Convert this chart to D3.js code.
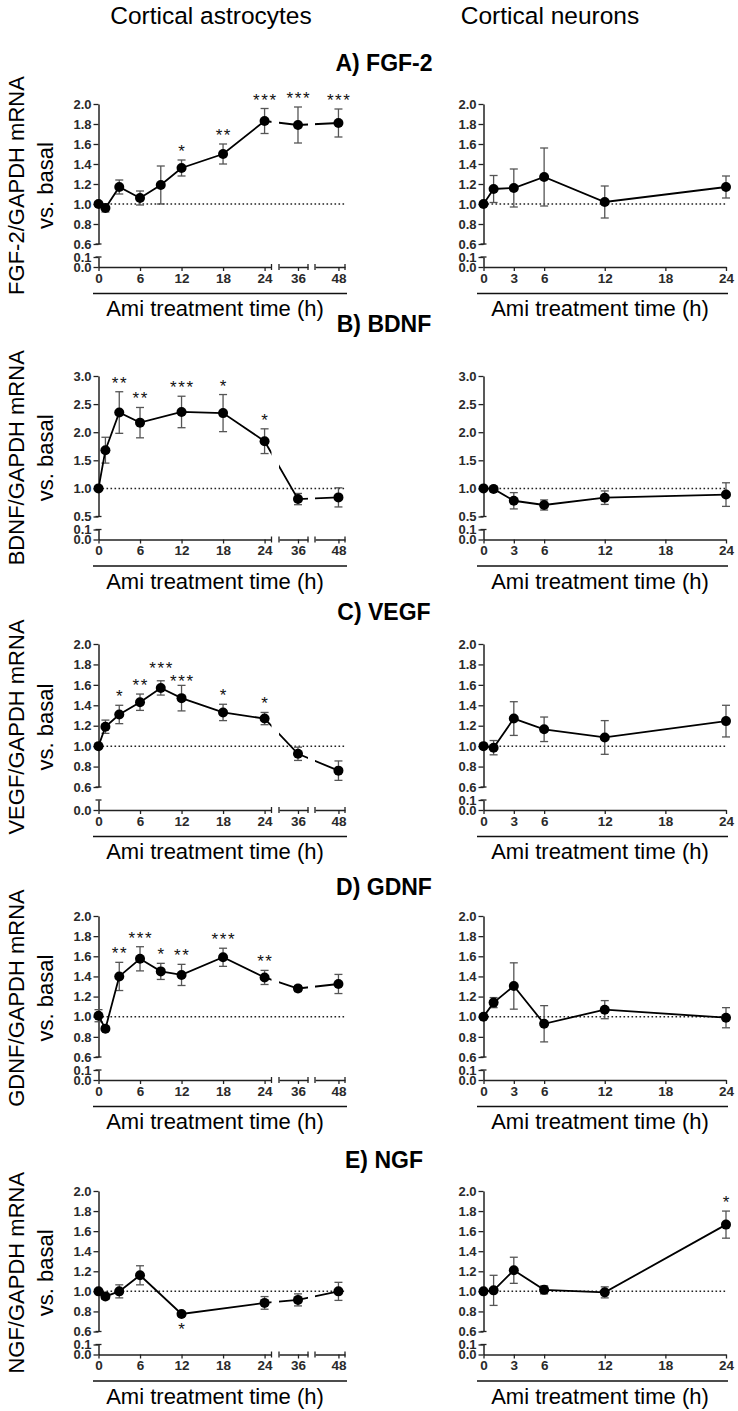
<!DOCTYPE html>
<html><head><meta charset="utf-8">
<script src="https://cdn.jsdelivr.net/npm/d3@7"></script>
<style>
body{margin:0;background:#fff}
svg{display:block}
text{font-family:Arial,"Liberation Sans",sans-serif}
</style>
</head><body>
<svg id="chart" width="738" height="1411"></svg>
<script>
// ---------------- data ----------------
const colTitles = ["Cortical astrocytes", "Cortical neurons"];
const panelLabels = ["A) FGF-2", "B) BDNF", "C) VEGF", "D) GDNF", "E) NGF"];
const yLabels = ["FGF-2/GAPDH mRNA", "BDNF/GAPDH mRNA", "VEGF/GAPDH mRNA", "GDNF/GAPDH mRNA", "NGF/GAPDH mRNA"];
const yLabel2 = "vs. basal";
const xLabel = "Ami treatment time (h)";

const upperTicksStd = [0.6, 0.8, 1.0, 1.2, 1.4, 1.6, 1.8, 2.0];
const upperTicksB = [0.5, 1.0, 1.5, 2.0, 2.5, 3.0];
const lowerTicks = [0.0, 0.1];
const lowerTicksC = [0.0];
const astroXTicks1 = [0, 6, 12, 18, 24];
const astroXTicks2 = [36];
const astroXTicks3 = [48];
const neuronXTicks = [0, 3, 6, 12, 18, 24];

const astroTimes = [0, 1, 3, 6, 9, 12, 18, 24, 36, 48];
const astroTimesB = [0, 1, 3, 6, 12, 18, 24, 36, 48];
const astroTimesE = [0, 1, 3, 6, 12, 24, 36, 48];
const neuronTimes = [0, 1, 3, 6, 12, 24];

// A) FGF-2
const fgfAstroMean = [1.00, 0.96, 1.17, 1.06, 1.19, 1.36, 1.50, 1.83, 1.79, 1.81];
const fgfAstroSem  = [0.02, 0.04, 0.07, 0.07, 0.19, 0.08, 0.10, 0.125, 0.18, 0.14];
const fgfAstroSig  = ["", "", "", "", "", "*", "**", "***", "***", "***"];
const fgfNeurMean  = [1.00, 1.15, 1.16, 1.27, 1.02, 1.17];
const fgfNeurSem   = [0, 0.135, 0.19, 0.29, 0.16, 0.11];
const fgfNeurSig   = ["", "", "", "", "", ""];
// B) BDNF
const bdnfAstroMean = [1.00, 1.68, 2.35, 2.17, 2.36, 2.34, 1.84, 0.81, 0.84];
const bdnfAstroSem  = [0, 0.23, 0.37, 0.27, 0.28, 0.33, 0.22, 0.10, 0.17];
const bdnfAstroSig  = ["", "", "**", "**", "***", "*", "*", "", ""];
const bdnfNeurMean  = [1.00, 0.99, 0.78, 0.705, 0.835, 0.89];
const bdnfNeurSem   = [0, 0.05, 0.145, 0.09, 0.12, 0.21];
const bdnfNeurSig   = ["", "", "", "", "", ""];
// C) VEGF
const vegfAstroMean = [1.00, 1.19, 1.31, 1.43, 1.57, 1.47, 1.33, 1.27, 0.925, 0.76];
const vegfAstroSem  = [0, 0.065, 0.09, 0.08, 0.07, 0.125, 0.08, 0.06, 0.065, 0.095];
const vegfAstroSig  = ["", "", "*", "**", "***", "***", "*", "*", "", ""];
const vegfNeurMean  = [1.00, 0.985, 1.27, 1.165, 1.085, 1.245];
const vegfNeurSem   = [0, 0.07, 0.165, 0.12, 0.165, 0.155];
const vegfNeurSig   = ["", "", "", "", "", ""];
// D) GDNF
const gdnfAstroMean = [1.01, 0.88, 1.40, 1.575, 1.45, 1.415, 1.59, 1.39, 1.28, 1.325];
const gdnfAstroSem  = [0.06, 0.02, 0.14, 0.12, 0.08, 0.105, 0.09, 0.07, 0.03, 0.095];
const gdnfAstroSig  = ["", "", "**", "***", "*", "**", "***", "**", "", ""];
const gdnfNeurMean  = [1.00, 1.14, 1.305, 0.93, 1.07, 0.99];
const gdnfNeurSem   = [0, 0.05, 0.23, 0.18, 0.09, 0.10];
const gdnfNeurSig   = ["", "", "", "", "", ""];
// E) NGF
const ngfAstroMean = [1.00, 0.95, 1.00, 1.16, 0.775, 0.885, 0.915, 1.00];
const ngfAstroSem  = [0.02, 0.03, 0.065, 0.095, 0.02, 0.063, 0.06, 0.09];
const ngfAstroSig  = ["", "", "", "", "*", "", "", ""];
const ngfAstroSigBelow = [false, false, false, false, true, false, false, false];
const ngfNeurMean  = [1.00, 1.01, 1.21, 1.015, 0.99, 1.665];
const ngfNeurSem   = [0, 0.15, 0.13, 0.04, 0.055, 0.135];
const ngfNeurSig   = ["", "", "", "", "", "*"];

// ---------------- layout ----------------
const rowTop   = [104, 376, 644, 916, 1191];
const rowZero  = [267, 539.5, 810, 1080, 1354.5];
const rowYMin  = [0.6, 0.5, 0.6, 0.6, 0.6];
const rowYMax  = [2.0, 3.0, 2.0, 2.0, 2.0];
const rowTicks = [upperTicksStd, upperTicksB, upperTicksStd, upperTicksStd, upperTicksStd];
const headerY  = [71, 331.5, 620, 895, 1168];
const colAxisX = [98.5, 483.5];

const panels = [
  {row:0,col:0,t:astroTimes, m:fgfAstroMean, e:fgfAstroSem, s:fgfAstroSig},
  {row:0,col:1,t:neuronTimes,m:fgfNeurMean,  e:fgfNeurSem,  s:fgfNeurSig},
  {row:1,col:0,t:astroTimesB,m:bdnfAstroMean,e:bdnfAstroSem,s:bdnfAstroSig},
  {row:1,col:1,t:neuronTimes,m:bdnfNeurMean, e:bdnfNeurSem, s:bdnfNeurSig},
  {row:2,col:0,t:astroTimes, m:vegfAstroMean,e:vegfAstroSem,s:vegfAstroSig, lower:lowerTicksC},
  {row:2,col:1,t:neuronTimes,m:vegfNeurMean, e:vegfNeurSem, s:vegfNeurSig},
  {row:3,col:0,t:astroTimes, m:gdnfAstroMean,e:gdnfAstroSem,s:gdnfAstroSig},
  {row:3,col:1,t:neuronTimes,m:gdnfNeurMean, e:gdnfNeurSem, s:gdnfNeurSig},
  {row:4,col:0,t:astroTimesE,m:ngfAstroMean, e:ngfAstroSem, s:ngfAstroSig, below:ngfAstroSigBelow},
  {row:4,col:1,t:neuronTimes,m:ngfNeurMean,  e:ngfNeurSem,  s:ngfNeurSig}
];

const svg = d3.select("#chart");
const AXC = "#222", ERRC = "#555", TICKC = "#2a2a2a";

// column titles
svg.append("text").attr("x", 211).attr("y", 23.5).attr("text-anchor","middle")
  .attr("font-size", 24.5).text(colTitles[0]);
svg.append("text").attr("x", 550).attr("y", 23.5).attr("text-anchor","middle")
  .attr("font-size", 24.5).text(colTitles[1]);

// row headers / y labels / x labels
for (let r = 0; r < 5; r++) {
  svg.append("text").attr("x", 384).attr("y", headerY[r]).attr("text-anchor","middle")
    .attr("font-size", 23).attr("font-weight","bold").text(panelLabels[r]);
  const cy = (rowTop[r] + rowZero[r]) / 2;
  svg.append("text").attr("transform", `translate(24,${cy}) rotate(-90)`)
    .attr("text-anchor","middle").attr("font-size", 22).text(yLabels[r]);
  svg.append("text").attr("transform", `translate(53,${cy}) rotate(-90)`)
    .attr("text-anchor","middle").attr("font-size", 22).text(yLabel2);
  const lines = [[93, 347, 215], [477, 728, 600]];
  lines.forEach(([x1, x2, xc]) => {
    svg.append("line").attr("x1", x1).attr("x2", x2)
      .attr("y1", rowZero[r] + 26.5).attr("y2", rowZero[r] + 26.5)
      .attr("stroke", "#111").attr("stroke-width", 1.6);
    svg.append("text").attr("x", xc).attr("y", rowZero[r] + 49).attr("text-anchor","middle")
      .attr("font-size", 22).text(xLabel);
  });
}

function styleAxis(g, fs) {
  g.select(".domain").attr("stroke", AXC).attr("stroke-width", 1.5);
  g.selectAll(".tick line").attr("stroke", AXC).attr("stroke-width", 1.3);
  g.selectAll(".tick text").attr("fill", TICKC)
    .style("font-size", fs + "px").style("font-weight", "bold");
}

let clipId = 0;
panels.forEach(p => {
  const r = p.row;
  const ax = colAxisX[p.col];
  const top = rowTop[r], zero = rowZero[r];
  const upper = d3.scaleLinear().domain([rowYMin[r], rowYMax[r]]).range([zero - 23, top]);
  const lower = d3.scaleLinear().domain([0, 0.1]).range([zero, zero - 10]);
  const y = v => v >= rowYMin[r] ? upper(v) : lower(v);

  let xSegs, xf, xEnd;
  if (p.col === 0) {
    const s1 = d3.scaleLinear().domain([0, 25]).range([ax, 271.5]);
    const s2 = d3.scaleLinear().domain([33.25, 37.45]).range([279, 308]);
    const s3 = d3.scaleLinear().domain([44.6, 48.95]).range([315, 345]);
    xSegs = [[s1, astroXTicks1, false], [s2, astroXTicks2, true], [s3, astroXTicks3, true]];
    xf = t => t <= 25 ? s1(t) : (t <= 40 ? s2(t) : s3(t));
    xEnd = 345;
  } else {
    const s = d3.scaleLinear().domain([0, 24]).range([ax, 726]);
    xSegs = [[s, neuronXTicks, false]];
    xf = t => s(t);
    xEnd = 726;
  }

  const g = svg.append("g");

  // dotted reference line at 1.0
  g.append("line").attr("x1", ax).attr("x2", xEnd).attr("y1", y(1)).attr("y2", y(1))
    .attr("stroke", "#222").attr("stroke-width", 1.5).attr("stroke-dasharray", "1.6,2.4");

  // y axis (two segments)
  const ya = g.append("g").attr("transform", `translate(${ax},0)`)
    .call(d3.axisLeft(upper).tickValues(rowTicks[r]).tickSize(5).tickSizeOuter(0).tickPadding(2)
      .tickFormat(d3.format(".1f")));
  styleAxis(ya, 13);
  const lowTicks = p.lower || lowerTicks;
  const yb = g.append("g").attr("transform", `translate(${ax},0)`)
    .call(d3.axisLeft(lower).tickValues(lowTicks).tickSize(5).tickSizeOuter(0).tickPadding(2)
      .tickFormat(d3.format(".1f")));
  styleAxis(yb, 13);
  // caps at y breaks
  [upper.range()[0], lower.range()[1]].forEach(yy => {
    g.append("line").attr("x1", ax - 3).attr("x2", ax + 3).attr("y1", yy).attr("y2", yy)
      .attr("stroke", AXC).attr("stroke-width", 1.3);
  });

  // x axis segments
  xSegs.forEach(([s, ticks, capLeft]) => {
    const xa = g.append("g").attr("transform", `translate(0,${zero})`)
      .call(d3.axisBottom(s).tickValues(ticks).tickSize(4).tickSizeOuter(0).tickPadding(2)
        .tickFormat(d3.format("d")));
    styleAxis(xa, 13.5);
    const [a, b] = s.range();
    if (capLeft) g.append("line").attr("x1", a).attr("x2", a).attr("y1", zero - 3).attr("y2", zero + 3)
      .attr("stroke", AXC).attr("stroke-width", 1.3);
    if (p.col === 0) g.append("line").attr("x1", b).attr("x2", b).attr("y1", zero - 3).attr("y2", zero + 3)
      .attr("stroke", AXC).attr("stroke-width", 1.3);
  });

  const data = p.t.map((t, i) => ({t, m: p.m[i], e: p.e[i], s: p.s[i], below: p.below ? p.below[i] : false}));

  // clip for broken x axis
  const cid = "clip" + (clipId++);
  const cp = svg.append("clipPath").attr("id", cid);
  xSegs.forEach(([s]) => {
    const [a, b] = s.range();
    cp.append("rect").attr("x", a).attr("y", top - 40).attr("width", b - a).attr("height", zero - top + 40);
  });

  // error bars
  const eb = g.append("g").attr("stroke", ERRC).attr("stroke-width", 1.3);
  data.filter(d => d.e > 0).forEach(d => {
    const x = xf(d.t), y1 = y(d.m + d.e), y2 = y(d.m - d.e);
    eb.append("line").attr("x1", x).attr("x2", x).attr("y1", y1).attr("y2", y2);
    eb.append("line").attr("x1", x - 4).attr("x2", x + 4).attr("y1", y1).attr("y2", y1);
    eb.append("line").attr("x1", x - 4).attr("x2", x + 4).attr("y1", y2).attr("y2", y2);
  });

  // data line
  g.append("path").datum(data).attr("clip-path", `url(#${cid})`)
    .attr("fill", "none").attr("stroke", "#000").attr("stroke-width", 1.8)
    .attr("d", d3.line().x(d => xf(d.t)).y(d => y(d.m)));

  // markers
  g.selectAll("circle.pt").data(data).join("circle").attr("class", "pt")
    .attr("cx", d => xf(d.t)).attr("cy", d => y(d.m)).attr("r", 5).attr("fill", "#000");

  // significance labels, with simple collision avoidance between neighbours
  const labs = data.filter(d => d.s).map(d => ({
    x: xf(d.t),
    y: d.below ? y(d.m - d.e) + 19 : y(d.m + d.e) - 3,
    w: d.s.length * 8.2,
    s: d.s
  }));
  for (let i = 1; i < labs.length; i++) {
    const a = labs[i - 1], b = labs[i];
    if (b.x - b.w / 2 < a.x + a.w / 2 && Math.abs(a.y - b.y) < 13) {
      const need = 13 - Math.abs(a.y - b.y);
      if (a.y <= b.y) { a.y -= need * 0.5; b.y += need * 0.5; }
      else { b.y -= need * 0.5; a.y += need * 0.5; }
    }
  }
  labs.forEach(l => {
    g.append("text").attr("x", l.x + 0.8).attr("y", l.y).attr("text-anchor", "middle")
      .attr("font-size", 17).attr("letter-spacing", 1.6).attr("fill", "#111").text(l.s);
  });
});
</script>
</body></html>
